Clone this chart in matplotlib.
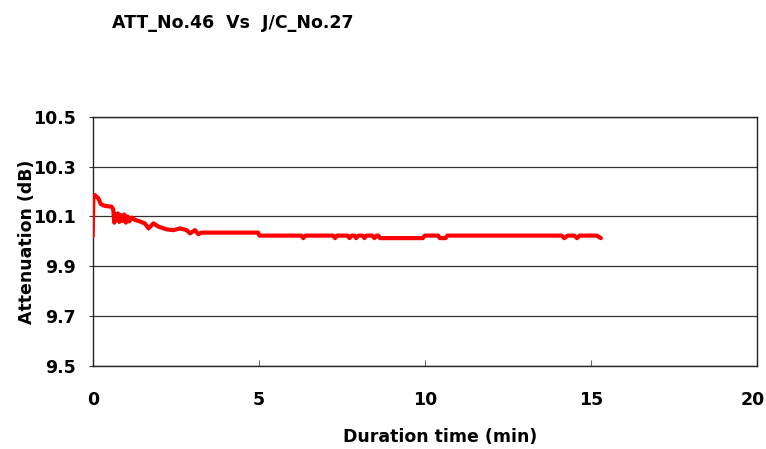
import matplotlib
matplotlib.use("Agg")
import matplotlib.pyplot as plt
from matplotlib.transforms import ScaledTranslation

title = "ATT_No.46  Vs  J/C_No.27"
x_label = "Duration time (min)"
y_label = "Attenuation (dB)"
x_ticks = [0, 5, 10, 15, 20]
y_ticks = [9.5, 9.7, 9.9, 10.1, 10.3, 10.5]
y_tick_labels = ["9.5", "9.7", "9.9", "10.1", "10.3", "10.5"]

time_min = [0.00, 0.02, 0.06, 0.17, 0.24, 0.37, 0.57, 0.62, 0.65, 0.68, 0.72, 0.76,
            0.80, 0.85, 0.90, 0.95, 1.00, 1.05, 1.10, 1.18, 1.27, 1.42, 1.57, 1.68,
            1.83, 1.98, 2.23, 2.43, 2.63, 2.83, 2.93, 3.08, 3.18, 3.28, 4.98, 5.02,
            6.28, 6.34, 6.40, 7.24, 7.30, 7.36, 7.68, 7.73, 7.80, 7.88, 7.93, 8.00,
            8.13, 8.18, 8.24, 8.42, 8.48, 8.55, 8.60, 8.65, 9.94, 10.00, 10.40, 10.45,
            10.62, 10.68, 14.12, 14.20, 14.30, 14.50, 14.58, 14.66, 15.18, 15.30]
attenuation = [10.020, 10.180, 10.186, 10.173, 10.150, 10.142, 10.139, 10.128, 10.075, 10.110, 10.085, 10.112,
               10.078, 10.105, 10.082, 10.108, 10.075, 10.100, 10.080, 10.095, 10.086, 10.080, 10.072, 10.052,
               10.072, 10.059, 10.048, 10.045, 10.052, 10.045, 10.032, 10.045, 10.029, 10.035, 10.035, 10.023,
               10.023, 10.013, 10.023, 10.023, 10.013, 10.023, 10.023, 10.013, 10.023, 10.023, 10.013, 10.023,
               10.023, 10.013, 10.023, 10.023, 10.013, 10.023, 10.023, 10.013, 10.013, 10.023, 10.023, 10.013,
               10.013, 10.023, 10.023, 10.013, 10.023, 10.023, 10.013, 10.023, 10.023, 10.013]

plt.rcParams['font.family'] = ['DejaVu Sans']
fig = plt.figure(figsize=(7.66, 4.49), dpi=100)
ax = fig.add_axes([92.7/766, 1-366/449, (757-92.7)/766, (366-116.7)/449])

ax.plot(time_min, attenuation, color='#ff0000', linewidth=3.0,
        solid_joinstyle='round', solid_capstyle='round', zorder=3)

ax.set_xlim(0, 20)
ax.set_ylim(9.5, 10.5)
ax.set_xticks(x_ticks)
ax.set_yticks(y_ticks)
ax.set_yticklabels(y_tick_labels)
ax.yaxis.grid(True, color='#333333', linewidth=0.9)
ax.set_axisbelow(True)

for s in ax.spines.values():
    s.set_color('#222222')
    s.set_linewidth(1.0)

ax.tick_params(axis='x', direction='in', length=4, width=0.8, color='#666666', pad=18,
               labelsize=12.5)
ax.tick_params(axis='y', direction='out', length=3, width=0.8, color='#333333', pad=9,
               labelsize=12.5)
for lbl in ax.get_xticklabels() + ax.get_yticklabels():
    lbl.set_fontweight('bold')

# nudge the last x tick label so it stays inside the figure
last = ax.get_xticklabels()[-1]
last.set_transform(last.get_transform() + ScaledTranslation(-4/100, 0, fig.dpi_scale_trans))

ax.set_xlabel(x_label, fontsize=12.5, fontweight='bold', va='center')
ax.set_ylabel(y_label, fontsize=12.5, fontweight='bold', va='center')
ax.xaxis.set_label_coords((440-92.7)/664.3, (366-437)/249.3)
ax.yaxis.set_label_coords((27-92.7)/664.3, 0.5)

fig.text(112/766, 1-23/449, title, fontsize=12.5, fontweight='bold', ha='left', va='center')

fig.savefig("out.png", dpi=100)
